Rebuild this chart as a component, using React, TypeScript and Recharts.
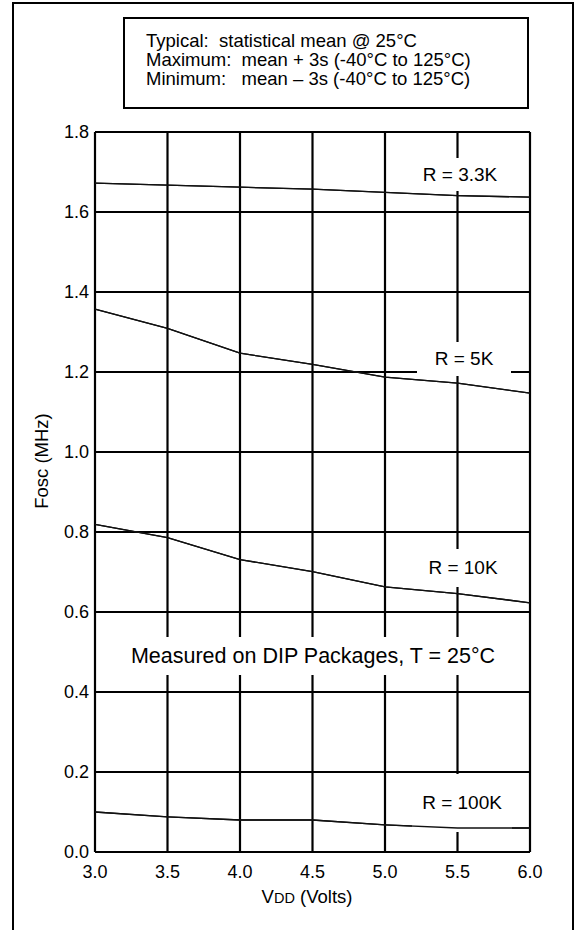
import React from 'react'
import { LineChart, Line, XAxis, YAxis, CartesianGrid } from 'recharts'

// Fosc vs VDD for several R values (RC oscillator, DIP, 25°C)
const vdd = [3.0, 3.5, 4.0, 4.5, 5.0, 5.5, 6.0]
const r3k3 = [1.672, 1.667, 1.662, 1.657, 1.649, 1.641, 1.637]
const r5k = [1.357, 1.309, 1.247, 1.219, 1.187, 1.172, 1.147]
const r10k = [0.819, 0.786, 0.731, 0.701, 0.663, 0.646, 0.623]
const r100k = [0.1, 0.088, 0.08, 0.08, 0.068, 0.06, 0.06]

const xTicks = [3.0, 3.5, 4.0, 4.5, 5.0, 5.5, 6.0]
const yTicks = [0, 0.2, 0.4, 0.6, 0.8, 1.0, 1.2, 1.4, 1.6, 1.8]

const legendLines = [
  'Typical:  statistical mean @ 25°C',
  'Maximum:  mean + 3s (-40°C to 125°C)',
  'Minimum:   mean – 3s (-40°C to 125°C)',
]

const rows = vdd.map((v, i) => ({
  vdd: v,
  r3k3: r3k3[i],
  r5k: r5k[i],
  r10k: r10k[i],
  r100k: r100k[i],
}))

const seriesKeys = ['r3k3', 'r5k', 'r10k', 'r100k']

const FONT = '"Liberation Sans", Arial, Helvetica, sans-serif'
const W = 576
const H = 930

// labels sit on white boxes that cut the grid but not the curves
const curveLabels = [
  { text: 'R = 3.3K', left: 413, top: 158, width: 94, height: 33, size: 19 },
  { text: 'R = 5K', left: 417, top: 342, width: 94, height: 34, size: 19 },
  { text: 'R = 10K', left: 416, top: 549, width: 94, height: 38, size: 19 },
  { text: 'R = 100K', left: 412, top: 774, width: 100, height: 58, size: 19 },
  { text: 'Measured on DIP Packages, T = 25°C', left: 128, top: 637, width: 370, height: 38, size: 21.5 },
]

function Lines() {
  return seriesKeys.map(k => (
    <Line
      key={k}
      type="linear"
      dataKey={k}
      stroke="#111"
      strokeWidth={1.3}
      dot={false}
      activeDot={false}
      isAnimationActive={false}
    />
  ))
}

export default function App() {
  return (
    <div style={{ position: 'absolute', left: 0, top: 0, width: W, height: H, background: '#fff', fontFamily: FONT, overflow: 'hidden' }}>
      {/* outer frame */}
      <div style={{ position: 'absolute', left: 12, top: 2, width: 562, height: 960, border: '2px solid #000', boxSizing: 'border-box' }} />

      {/* notes box */}
      <div style={{ position: 'absolute', left: 123, top: 17, width: 406, height: 92, border: '2px solid #000', boxSizing: 'border-box' }} />
      <div style={{ position: 'absolute', left: 146, top: 31, fontSize: 18.5, lineHeight: '19px', color: '#000', whiteSpace: 'pre' }}>
        {legendLines.map(l => <div key={l}>{l}</div>)}
      </div>

      {/* grid + axes */}
      <div style={{ position: 'absolute', left: 0, top: 0 }}>
        <LineChart width={W} height={H} data={rows} margin={{ top: 132, right: 46, bottom: 38, left: 0 }}>
          <CartesianGrid stroke="#000" strokeWidth={2.2} horizontalValues={yTicks} verticalValues={xTicks} />
          <XAxis
            dataKey="vdd"
            type="number"
            domain={[3, 6]}
            ticks={xTicks}
            height={40}
            axisLine={false}
            tickLine={false}
            tickMargin={7}
            tickFormatter={v => v.toFixed(1)}
            tick={{ fill: '#000', fontSize: 18, fontFamily: FONT }}
          />
          <YAxis
            type="number"
            domain={[0, 1.8]}
            ticks={yTicks}
            width={95}
            axisLine={false}
            tickLine={false}
            tickMargin={0}
            tickFormatter={v => v.toFixed(1)}
            tick={{ fill: '#000', fontSize: 18, fontFamily: FONT }}
          />
          {Lines()}
        </LineChart>
      </div>

      {/* curve labels */}
      {curveLabels.map(l => (
        <div
          key={l.text}
          style={{
            position: 'absolute', left: l.left, top: l.top, width: l.width, height: l.height,
            background: '#fff', display: 'flex', alignItems: 'center', justifyContent: 'center',
            fontSize: l.size, color: '#000', whiteSpace: 'nowrap',
          }}
        >
          {l.text}
        </div>
      ))}

      {/* curves on top */}
      <div style={{ position: 'absolute', left: 0, top: 0 }}>
        <LineChart width={W} height={H} data={rows} margin={{ top: 132, right: 46, bottom: 78, left: 95 }}>
          <XAxis dataKey="vdd" type="number" domain={[3, 6]} hide />
          <YAxis type="number" domain={[0, 1.8]} hide />
          {Lines()}
        </LineChart>
      </div>

      {/* axis titles */}
      <div style={{ position: 'absolute', left: 42, top: 461, transform: 'translate(-50%, -50%) rotate(-90deg)', fontSize: 18.5, whiteSpace: 'nowrap' }}>
        Fosc (MHz)
      </div>
      <div style={{ position: 'absolute', left: 307, top: 897, transform: 'translate(-50%, -50%)', fontSize: 18.5, whiteSpace: 'nowrap' }}>
        V<span style={{ fontSize: 14.5 }}>DD</span> (Volts)
      </div>
    </div>
  )
}
